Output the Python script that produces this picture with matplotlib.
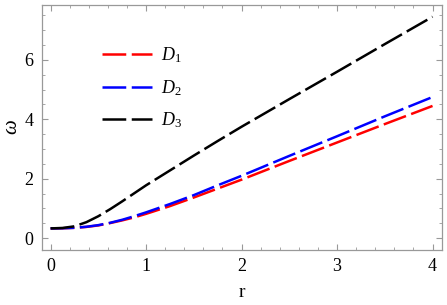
import matplotlib.pyplot as plt
from matplotlib.ticker import MultipleLocator

r = [0, 0.125, 0.25, 0.375, 0.5, 0.625, 0.75, 0.875, 1.0, 1.25, 1.5, 1.75,
     2.0, 2.5, 3.0, 3.5, 4.0]
d1 = [0.33, 0.335, 0.35, 0.38, 0.43, 0.51, 0.60, 0.70, 0.82, 1.08, 1.37, 1.67,
      1.97, 2.60, 3.22, 3.84, 4.45]
d2 = [0.33, 0.335, 0.35, 0.385, 0.44, 0.52, 0.62, 0.74, 0.87, 1.15, 1.45, 1.78,
      2.10, 2.77, 3.43, 4.10, 4.75]
d3 = [0.33, 0.345, 0.40, 0.54, 0.74, 0.98, 1.24, 1.51, 1.78, 2.28, 2.78, 3.27,
      3.75, 4.68, 5.60, 6.53, 7.45]
labels = ["$D_1$", "$D_2$", "$D_3$"]
colors = ["#ff0000", "#0000ff", "#000000"]

plt.rcParams["font.family"] = "Liberation Serif"
plt.rcParams["mathtext.fontset"] = "custom"
plt.rcParams["mathtext.it"] = "Liberation Serif:italic"
plt.rcParams["mathtext.rm"] = "Liberation Serif"

fig = plt.figure(figsize=(4.47, 3.05), dpi=100)
ax = fig.add_axes([0.094, 0.18, 0.895, 0.804])
for ys, lab, c in zip([d1, d2, d3], labels, colors):
    ax.plot(r, ys, color=c, lw=1.8, dashes=(9.5, 2.2), label=lab)

ax.set_xlim(-0.09, 4.1)
ax.set_ylim(-0.4, 7.85)
ax.xaxis.set_major_locator(MultipleLocator(1))
ax.xaxis.set_minor_locator(MultipleLocator(0.2))
ax.yaxis.set_major_locator(MultipleLocator(2))
ax.yaxis.set_minor_locator(MultipleLocator(0.5))
ax.tick_params(which="both", direction="in", top=True, right=True,
               color="#999999", labelsize=13, pad=6)
ax.tick_params(which="major", length=4, width=0.8)
ax.tick_params(which="minor", length=2.5, width=0.6)
for s in ax.spines.values():
    s.set_color("#999999")
    s.set_linewidth(0.9)
ax.set_xlabel("r", fontsize=14, labelpad=6)
ax.set_ylabel("$\\omega$", fontsize=15, labelpad=2)
ax.legend(loc="upper left", bbox_to_anchor=(0.11, 0.9), frameon=False,
          fontsize=13, handlelength=2.75, labelspacing=0.7, handletextpad=0.5)
fig.savefig("out.png", dpi=100)
